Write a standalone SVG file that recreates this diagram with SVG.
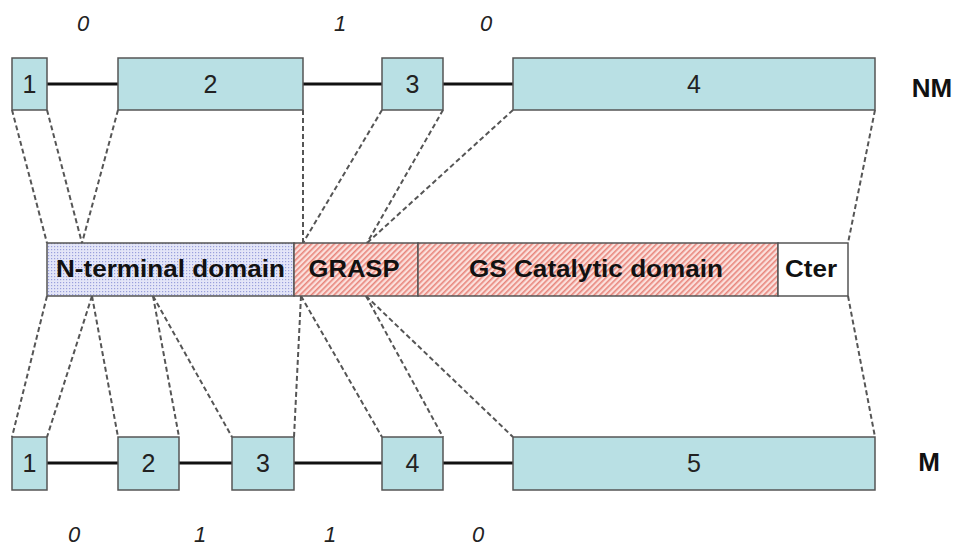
<svg xmlns="http://www.w3.org/2000/svg" width="957" height="549" viewBox="0 0 957 549">
<style>
.exon{fill:#b9e0e4;stroke:#555;stroke-width:1.5}
.intron{stroke:#111;stroke-width:3}
.dash{stroke:#555;stroke-width:2;stroke-dasharray:5,3;fill:none}
.num{font-family:"Liberation Sans",Arial,sans-serif;font-size:25px;fill:#222;text-anchor:middle}
.dom{font-family:"Liberation Sans",Arial,sans-serif;font-size:24px;font-weight:bold;fill:#111;text-anchor:middle}
.lab{font-family:"Liberation Sans",Arial,sans-serif;font-size:26px;font-weight:bold;fill:#111;text-anchor:middle}
.ph{font-family:"Liberation Sans",Arial,sans-serif;font-size:22px;font-style:italic;fill:#222;text-anchor:middle}
.seg{stroke:#555;stroke-width:1.5}
</style>
<defs>
<pattern id="dots" width="3" height="3" patternUnits="userSpaceOnUse">
<rect width="3" height="3" fill="#e4e6f8"/>
<rect width="1.2" height="1.2" fill="#9aa0dc"/>
</pattern>
<pattern id="hatch" width="4" height="4" patternUnits="userSpaceOnUse" patternTransform="rotate(45)">
<rect width="4" height="4" fill="#fbe0dc"/>
<rect width="1.6" height="4" fill="#e8867c"/>
</pattern>
</defs>
<g id="connectors">
<line class="intron" x1="47" y1="84" x2="118" y2="84"/>
<line class="intron" x1="303" y1="84" x2="382" y2="84"/>
<line class="intron" x1="443" y1="84" x2="513" y2="84"/>
<line class="intron" x1="47" y1="463" x2="118" y2="463"/>
<line class="intron" x1="179" y1="463" x2="232" y2="463"/>
<line class="intron" x1="294" y1="463" x2="382" y2="463"/>
<line class="intron" x1="443" y1="463" x2="513" y2="463"/>
<line class="dash" x1="12" y1="110" x2="47" y2="243"/>
<line class="dash" x1="47" y1="110" x2="82" y2="243"/>
<line class="dash" x1="118" y1="110" x2="82" y2="243"/>
<line class="dash" x1="303" y1="110" x2="303" y2="243"/>
<line class="dash" x1="382" y1="110" x2="303" y2="243"/>
<line class="dash" x1="443" y1="110" x2="367" y2="243"/>
<line class="dash" x1="513" y1="110" x2="367" y2="243"/>
<line class="dash" x1="875" y1="110" x2="848" y2="243"/>
<line class="dash" x1="47" y1="296" x2="12" y2="437"/>
<line class="dash" x1="92" y1="296" x2="47" y2="437"/>
<line class="dash" x1="92" y1="296" x2="118" y2="437"/>
<line class="dash" x1="153" y1="296" x2="179" y2="437"/>
<line class="dash" x1="153" y1="296" x2="232" y2="437"/>
<line class="dash" x1="301" y1="296" x2="294" y2="437"/>
<line class="dash" x1="301" y1="296" x2="382" y2="437"/>
<line class="dash" x1="366" y1="296" x2="443" y2="437"/>
<line class="dash" x1="366" y1="296" x2="513" y2="437"/>
<line class="dash" x1="848" y1="296" x2="875" y2="437"/>
</g>
<g id="nm-exon1"><rect class="exon" x="12" y="58" width="35" height="52"/><text class="num" x="29.5" y="93">1</text></g>
<g id="nm-exon2"><rect class="exon" x="118" y="58" width="185" height="52"/><text class="num" x="210.5" y="93">2</text></g>
<g id="nm-exon3"><rect class="exon" x="382" y="58" width="61" height="52"/><text class="num" x="412.5" y="93">3</text></g>
<g id="nm-exon4"><rect class="exon" x="513" y="58" width="362" height="52"/><text class="num" x="694" y="93">4</text></g>
<g id="nm-label"><text class="lab" x="932" y="97">NM</text></g>
<g id="nm-phases">
<text class="ph" x="83" y="31">0</text>
<text class="ph" x="340" y="31">1</text>
<text class="ph" x="486" y="31">0</text>
</g>
<g id="protein">
<rect x="47" y="243" width="247" height="53" fill="url(#dots)" class="seg"/>
<rect x="294" y="243" width="124" height="53" fill="url(#hatch)" class="seg"/>
<rect x="418" y="243" width="360" height="53" fill="url(#hatch)" class="seg"/>
<rect x="778" y="243" width="70" height="53" fill="#fff" class="seg"/>
<text class="dom" x="170.5" y="277" textLength="229" lengthAdjust="spacingAndGlyphs">N-terminal domain</text>
<text class="dom" x="354" y="277" textLength="91" lengthAdjust="spacingAndGlyphs">GRASP</text>
<text class="dom" x="596" y="277" textLength="254" lengthAdjust="spacingAndGlyphs">GS Catalytic domain</text>
<text class="dom" x="811" y="277" textLength="52" lengthAdjust="spacingAndGlyphs">Cter</text>
</g>
<g id="m-exon1"><rect class="exon" x="12" y="437" width="35" height="53"/><text class="num" x="29.5" y="472">1</text></g>
<g id="m-exon2"><rect class="exon" x="118" y="437" width="61" height="53"/><text class="num" x="148.5" y="472">2</text></g>
<g id="m-exon3"><rect class="exon" x="232" y="437" width="62" height="53"/><text class="num" x="263" y="472">3</text></g>
<g id="m-exon4"><rect class="exon" x="382" y="437" width="61" height="53"/><text class="num" x="412.5" y="472">4</text></g>
<g id="m-exon5"><rect class="exon" x="513" y="437" width="362" height="53"/><text class="num" x="694" y="472">5</text></g>
<g id="m-label"><text class="lab" x="929" y="471">M</text></g>
<g id="m-phases">
<text class="ph" x="74" y="542">0</text>
<text class="ph" x="200" y="542">1</text>
<text class="ph" x="330" y="542">1</text>
<text class="ph" x="478" y="542">0</text>
</g>
</svg>
